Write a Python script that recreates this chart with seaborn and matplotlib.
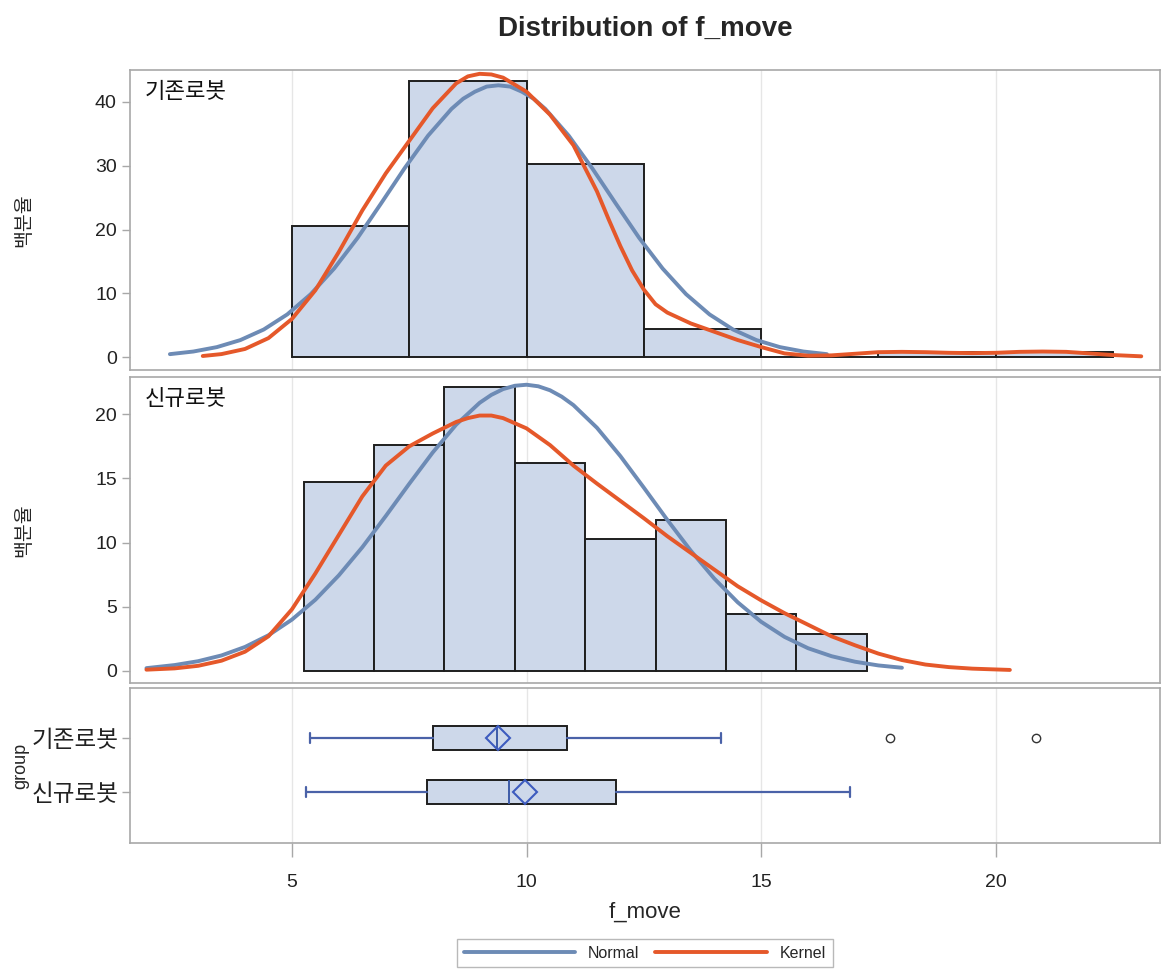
import matplotlib
matplotlib.use("Agg")
import matplotlib.pyplot as plt
from matplotlib.lines import Line2D
import seaborn as sns

# histogram bins (percent)
old_edges = [5.0, 7.5, 10.0, 12.5, 15.0, 17.5, 20.0, 22.5]
old_pct = [20.5, 43.2, 30.3, 4.5, 0.0, 0.76, 0.76]
new_edges = [5.25, 6.75, 8.25, 9.75, 11.25, 12.75, 14.25, 15.75, 17.25]
new_pct = [14.7, 17.6, 22.1, 16.2, 10.3, 11.8, 4.4, 2.9]

# fitted normal curves (percent scale)
old_norm_x = [2.4, 2.9, 3.4, 3.9, 4.4, 4.9, 5.4, 5.9, 6.4, 6.9, 7.4, 7.9, 8.4, 8.65,
              8.9, 9.15, 9.4, 9.65, 9.9, 10.15, 10.4, 10.9, 11.4, 11.9, 12.4, 12.9,
              13.4, 13.9, 14.4, 14.9, 15.4, 15.9, 16.4]
old_norm_y = [0.49, 0.90, 1.59, 2.69, 4.35, 6.71, 9.88, 13.9, 18.7, 24.1, 29.6, 34.7,
              38.9, 40.5, 41.6, 42.4, 42.6, 42.4, 41.6, 40.5, 38.9, 34.7, 29.6, 24.1,
              18.7, 13.9, 9.88, 6.71, 4.35, 2.69, 1.59, 0.90, 0.49]
new_norm_x = [1.9, 2.5, 3.0, 3.5, 4.0, 4.5, 5.0, 5.5, 6.0, 6.5, 7.0, 7.5, 8.0, 8.5,
              9.0, 9.25, 9.5, 9.75, 10.0, 10.25, 10.5, 10.75, 11.0, 11.5, 12.0, 12.5,
              13.0, 13.5, 14.0, 14.5, 15.0, 15.5, 16.0, 16.5, 17.0, 17.5, 18.0]
new_norm_y = [0.22, 0.46, 0.76, 1.21, 1.87, 2.78, 4.00, 5.55, 7.45, 9.64, 12.07, 14.58,
              17.02, 19.19, 20.89, 21.51, 21.96, 22.22, 22.30, 22.18, 21.87, 21.37,
              20.71, 18.95, 16.74, 14.28, 11.77, 9.37, 7.20, 5.35, 3.83, 2.65, 1.77,
              1.15, 0.72, 0.43, 0.25]

# kernel density curves (percent scale)
old_kern_x = [3.1, 3.5, 4.0, 4.5, 5.0, 5.5, 6.0, 6.5, 7.0, 7.5, 8.0, 8.5, 8.75, 9.0,
              9.25, 9.5, 10.0, 10.5, 11.0, 11.5, 11.75, 12.0, 12.25, 12.5, 12.75,
              13.0, 13.5, 14.0, 14.5, 15.0, 15.5, 16.0, 16.5, 17.0, 17.5, 18.0, 18.5,
              19.0, 19.5, 20.0, 20.5, 21.0, 21.5, 22.0, 22.5, 23.1]
old_kern_y = [0.2, 0.5, 1.3, 3.0, 6.0, 10.5, 16.5, 23.0, 28.8, 33.9, 39.0, 42.9, 44.0,
              44.4, 44.3, 43.8, 41.6, 38.0, 33.2, 26.0, 21.6, 17.4, 13.6, 10.6, 8.3,
              7.0, 5.3, 4.0, 2.7, 1.6, 0.6, 0.25, 0.3, 0.55, 0.8, 0.85, 0.8, 0.7, 0.65,
              0.7, 0.85, 0.9, 0.85, 0.6, 0.35, 0.15]
new_kern_x = [1.9, 2.5, 3.0, 3.5, 4.0, 4.5, 5.0, 5.5, 6.0, 6.5, 7.0, 7.5, 8.0, 8.5,
              8.75, 9.0, 9.25, 9.5, 10.0, 10.5, 11.0, 11.5, 12.0, 12.5, 13.0, 13.5,
              14.0, 14.5, 15.0, 15.5, 16.0, 16.5, 17.0, 17.5, 18.0, 18.5, 19.0, 19.5,
              20.3]
new_kern_y = [0.1, 0.2, 0.4, 0.8, 1.5, 2.7, 4.8, 7.6, 10.6, 13.6, 16.0, 17.5, 18.5,
              19.4, 19.7, 19.9, 19.9, 19.7, 18.9, 17.6, 16.0, 14.6, 13.25, 11.9, 10.5,
              9.2, 7.9, 6.6, 5.5, 4.5, 3.6, 2.7, 2.0, 1.35, 0.85, 0.5, 0.3, 0.18, 0.08]

# box plot summaries
groups = ["기존로봇", "신규로봇"]
box_min = [5.38, 5.31]
box_q1 = [8.0, 7.87]
box_med = [9.38, 9.63]
box_q3 = [10.87, 11.91]
box_max = [14.15, 16.9]
box_mean = [9.39, 9.97]
box_fliers = [[17.75, 20.86], []]

BAR = "#cdd8ea"
BLUE = "#6d8bb5"
ORANGE = "#e5582a"
GRID = "#e6e6e6"
SPINE = "#a8a8a8"

sns.set_style("white")
plt.rcParams["font.family"] = ["Liberation Sans", "Noto Sans CJK KR", "DejaVu Sans"]

fig = plt.figure(figsize=(11.62, 9.72), dpi=100)
L, W = 0.1119, 0.8864
ax1 = fig.add_axes([L, 0.6193, W, 0.3087])
ax2 = fig.add_axes([L, 0.2973, W, 0.3148])
ax3 = fig.add_axes([L, 0.1327, W, 0.1595])

panels = [
    (ax1, old_edges, old_pct, old_norm_x, old_norm_y, old_kern_x, old_kern_y,
     groups[0], (-2.0, 45.0), [0, 10, 20, 30, 40]),
    (ax2, new_edges, new_pct, new_norm_x, new_norm_y, new_kern_x, new_kern_y,
     groups[1], (-0.94, 22.9), [0, 5, 10, 15, 20]),
]

for ax, edges, pct, nx, ny, kx, ky, name, ylim, yt in panels:
    centers = [(a + b) / 2 for a, b in zip(edges[:-1], edges[1:])]
    sns.histplot(x=centers, weights=pct, bins=edges, ax=ax, color=BAR, alpha=1,
                 edgecolor="#1e1e1e", linewidth=1.4, zorder=2)
    sns.lineplot(x=nx, y=ny, ax=ax, color=BLUE, linewidth=2.8, estimator=None,
                 sort=False, zorder=3)
    sns.lineplot(x=kx, y=ky, ax=ax, color=ORANGE, linewidth=2.8, estimator=None,
                 sort=False, zorder=4)
    ax.set_ylim(*ylim)
    ax.set_yticks(yt)
    ax.set_ylabel("백분율", fontsize=14)
    ax.yaxis.set_label_coords(-0.094, 0.5)
    ax.text(0.014, 0.96, name, transform=ax.transAxes, ha="left", va="top",
            fontsize=16, color="#111111")
    ax.set_xticklabels([])
    ax.tick_params(axis="x", length=0)

stats = []
for i in range(len(groups)):
    stats.append({
        "whislo": box_min[i], "q1": box_q1[i], "med": box_med[i], "q3": box_q3[i],
        "whishi": box_max[i], "mean": box_mean[i], "fliers": box_fliers[i],
        "label": groups[i],
    })
ax3.bxp(stats, positions=[0, 1], vert=False, widths=0.44, patch_artist=True,
        showmeans=True, capwidths=0.2,
        boxprops={"facecolor": BAR, "edgecolor": "#1e1e1e", "linewidth": 1.4},
        medianprops={"color": "#3d5ba8", "linewidth": 1.4},
        whiskerprops={"color": "#4a62a8", "linewidth": 1.6},
        capprops={"color": "#4a62a8", "linewidth": 1.6},
        meanprops={"marker": "D", "markerfacecolor": "none",
                   "markeredgecolor": "#3d5bbf", "markersize": 12,
                   "markeredgewidth": 1.5},
        flierprops={"marker": "o", "markerfacecolor": "none",
                    "markeredgecolor": "#333333", "markersize": 6})
ax3.set_ylim(1.944, -0.926)
ax3.set_yticks([0, 1])
ax3.set_yticklabels(groups)
ax3.set_ylabel("group", fontsize=13)
ax3.yaxis.set_label_coords(-0.098, 0.5)
ax3.set_xlabel("f_move", fontsize=16, labelpad=8)

for ax in (ax1, ax2, ax3):
    ax.set_xlim(1.55, 23.5)
    ax.set_xticks([5, 10, 15, 20])
    ax.grid(axis="x", color=GRID, linewidth=1, zorder=0)
    ax.set_axisbelow(True)
    for s in ax.spines.values():
        s.set_color(SPINE)
        s.set_linewidth(1.2)
    ax.tick_params(axis="y", left=True, length=6, width=1, color=SPINE,
                   labelsize=14, labelcolor="#222222")
ax3.tick_params(axis="x", bottom=True, length=10, width=1, color=SPINE,
                labelsize=14, labelcolor="#222222", pad=12)
ax3.tick_params(axis="y", labelsize=17, pad=2)

fig.text(0.555, 0.970, "Distribution of f_move", ha="center", va="center",
         fontsize=20, fontweight="bold")

handles = [Line2D([], [], color=BLUE, linewidth=2.8),
           Line2D([], [], color=ORANGE, linewidth=2.8)]
leg = fig.legend(handles, ["Normal", "Kernel"], loc="center",
                 bbox_to_anchor=(0.555, 0.0195), ncol=2, frameon=True,
                 fancybox=False, fontsize=11.5, handlelength=7,
                 columnspacing=1.0, borderpad=0.4, edgecolor=SPINE)
leg.get_frame().set_linewidth(1.0)

fig.savefig("out.png", dpi=100, facecolor="white")
